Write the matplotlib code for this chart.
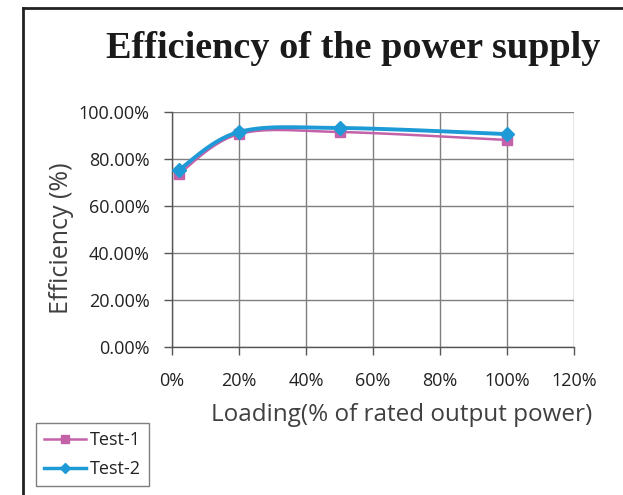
import numpy as np
import matplotlib
matplotlib.use("Agg")
import matplotlib.pyplot as plt
from matplotlib.lines import Line2D

loading = [2, 20, 50, 100]
test1 = [73.6, 90.6, 91.5, 88.1]
test2 = [75.3, 91.5, 93.2, 90.6]
series_names = ["Test-1", "Test-2"]
xticks = [0, 20, 40, 60, 80, 100, 120]
yticks = [0, 20, 40, 60, 80, 100]
title = "Efficiency of the power supply"
xlabel = "Loading(% of rated output power)"
ylabel = "Efficiency (%)"

def smooth(xs, ys, n=40):
    P = np.column_stack([xs, ys]).astype(float)
    Pe = np.vstack([P[0], P, P[-1]])
    out = []
    t = np.linspace(0, 1, n)[:, None]
    for i in range(len(P) - 1):
        p0, p3 = P[i], P[i + 1]
        c1 = p0 + (Pe[i + 2] - Pe[i]) / 6.0
        c2 = p3 - (Pe[i + 3] - Pe[i + 1]) / 6.0
        seg = (1 - t) ** 3 * p0 + 3 * (1 - t) ** 2 * t * c1 + 3 * (1 - t) * t ** 2 * c2 + t ** 3 * p3
        out.append(seg if i == 0 else seg[1:])
    s = np.vstack(out)
    return s[:, 0], s[:, 1]

W, H = 623, 495
fig = plt.figure(figsize=(W / 100, H / 100), dpi=100)
fig.patch.set_facecolor("white")

# outer frame (top and left edges visible)
fig.add_artist(Line2D([23.5 / W, 1], [1 - 7.5 / H, 1 - 7.5 / H], color="#222222", lw=2.0, transform=fig.transFigure))
fig.add_artist(Line2D([23.5 / W, 23.5 / W], [1 - 7.5 / H, 0], color="#222222", lw=2.0, transform=fig.transFigure))

ax = fig.add_axes([172 / W, 1 - 347 / H, (574 - 172) / W, (347 - 112) / H])
ax.set_xlim(0, 120)
ax.set_ylim(0, 100)
ax.set_xticks(xticks)
ax.set_yticks(yticks)
tickfont = dict(family=["Open Sans", "DejaVu Sans"], size=13)
ax.set_xticklabels([f"{v}%" for v in xticks], **tickfont, color="#222222")
ax.set_yticklabels([f"{v:.2f}%" for v in yticks], **tickfont, color="#222222")
ax.grid(True, color="#7f7f7f", lw=1.0)
ax.set_axisbelow(True)
for s in ["top", "right"]:
    ax.spines[s].set_visible(False)
for s in ["left", "bottom"]:
    ax.spines[s].set_color("#555555")
    ax.spines[s].set_linewidth(1.0)
ax.tick_params(axis="both", direction="out", length=6, color="#555555", width=1.0)
ax.tick_params(axis="x", pad=12)
ax.tick_params(axis="y", pad=10)

c1, c2 = "#C462A9", "#1E9BD7"
sx, sy = smooth(loading, test1)
ax.plot(sx, sy, color=c1, lw=1.8, zorder=3)
ax.plot(loading, test1, ls="none", marker="s", ms=7.5, color=c1, zorder=4)
sx, sy = smooth(loading, test2)
ax.plot(sx, sy, color=c2, lw=2.8, zorder=5)
ax.plot(loading, test2, ls="none", marker="D", ms=7, color=c2, zorder=6)

fig.text(353 / W, 1 - 49 / H, title, ha="center", va="center",
         family=["Liberation Serif", "DejaVu Serif"], weight="bold", size=27.5, color="#1a1a1a")
fig.text(402 / W, 1 - 415 / H, xlabel, ha="center", va="center",
         family=["Open Sans", "DejaVu Sans"], size=17.5, color="#404040")
fig.text(62 / W, 1 - 238 / H, ylabel, ha="center", va="center", rotation=90,
         family=["Open Sans", "DejaVu Sans"], size=18, color="#404040")

handles = [Line2D([], [], color=c1, lw=1.8, marker="s", ms=6),
           Line2D([], [], color=c2, lw=2.5, marker="D", ms=5)]
leg = fig.legend(handles, series_names, loc="upper left",
                 bbox_to_anchor=(36 / W, 1 - 423 / H), bbox_transform=fig.transFigure,
                 frameon=True, fancybox=False, edgecolor="#7f7f7f", framealpha=1,
                 prop=dict(family=["Open Sans", "DejaVu Sans"], size=13),
                 handlelength=2.3, handletextpad=0.25, borderpad=0.45, labelspacing=0.6,
                 borderaxespad=0)
leg.get_frame().set_linewidth(1.0)
for t in leg.get_texts():
    t.set_color("#222222")

fig.savefig("out.png", dpi=100, facecolor="white")
